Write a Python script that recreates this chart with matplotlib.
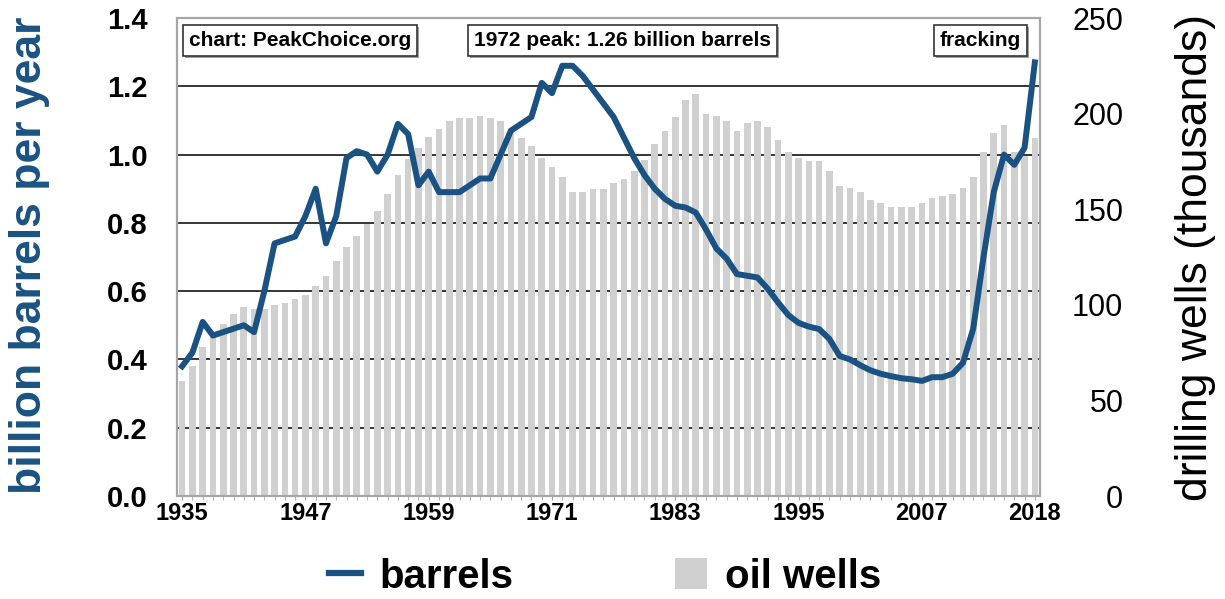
import matplotlib
matplotlib.use("Agg")
import matplotlib.pyplot as plt
import matplotlib.patheffects as pe
from matplotlib.lines import Line2D
from matplotlib.patches import Patch

plt.rcParams['font.family'] = ['Liberation Sans', 'DejaVu Sans']

years = list(range(1935, 2019))

# billion barrels per year (left axis)
barrels = [0.38, 0.42, 0.51, 0.47, 0.48, 0.49, 0.50, 0.48, 0.60, 0.74,
           0.75, 0.76, 0.82, 0.90, 0.74, 0.82, 0.99, 1.01, 1.00, 0.95,
           1.00, 1.09, 1.06, 0.91, 0.95, 0.89, 0.89, 0.89, 0.91, 0.93,
           0.93, 1.00, 1.07, 1.09, 1.11, 1.21, 1.18, 1.26, 1.26, 1.23,
           1.19, 1.15, 1.11, 1.05, 0.99, 0.94, 0.90, 0.87, 0.85, 0.845,
           0.83, 0.78, 0.725, 0.695, 0.65, 0.645, 0.64, 0.607, 0.567, 0.53,
           0.507, 0.496, 0.489, 0.46, 0.41, 0.40, 0.383, 0.368, 0.358, 0.351,
           0.345, 0.342, 0.337, 0.348, 0.348, 0.358, 0.39, 0.49, 0.70, 0.89,
           1.00, 0.97, 1.02, 1.27]

# oil wells, thousands (right axis)
wells = [60, 68, 78, 83, 90, 95, 99, 98, 98, 100,
         101, 103, 105, 110, 115, 123, 130, 136, 142, 149,
         158, 168, 176, 182, 188, 192, 196, 197.5, 197.5, 199,
         197.5, 196, 192, 187.5, 183, 176.7, 172, 166.7, 159, 159,
         160.7, 160.7, 163.7, 166, 170, 175.5, 184, 191, 198, 207,
         210, 200, 199, 196, 191, 195, 196, 193, 186, 180,
         177, 175.3, 175.3, 170, 162, 161, 159, 155, 153, 151,
         151, 151, 153, 156, 157, 158, 161, 167, 180, 190,
         194, 180, 178, 187]

label_years = [1935, 1947, 1959, 1971, 1983, 1995, 2007, 2018]
left_ticks = [0.0, 0.2, 0.4, 0.6, 0.8, 1.0, 1.2, 1.4]
right_ticks = [0, 50, 100, 150, 200, 250]

blue = '#1a5283'
gray_bar = '#d0d0d0'
spine_gray = '#a6a6a6'

fig = plt.figure(figsize=(12.25, 5.99), dpi=100)
ax = fig.add_axes([177 / 1225, 1 - 496 / 599, 863 / 1225, 478 / 599])
ax2 = ax.twinx()

# bars on the right-hand scale
ax.set_ylim(0, 250)
ax.set_xlim(1934.5, 2018.5)
for v in left_ticks[1:-1]:
    ax.axhline(v * 250 / 1.4, color='black', lw=1.1, zorder=0)
ax.bar(years, wells, width=0.65, color=gray_bar, zorder=2)

# barrels line on the left-hand scale
ax2.set_ylim(0, 1.4)
ax2.plot(years, barrels, color=blue, lw=4.3, solid_joinstyle='round', zorder=3)

ax.yaxis.tick_right()
ax2.yaxis.tick_left()
ax.set_yticks(right_ticks)
ax.set_yticklabels([str(t) for t in right_ticks])
ax.tick_params(axis='y', length=0, pad=60, labelsize=22)
for lbl in ax.get_yticklabels():
    lbl.set_ha('right')
ax2.set_yticks(left_ticks)
ax2.set_yticklabels([f'{t:.1f}' for t in left_ticks], fontweight='bold')
ax2.tick_params(axis='y', length=0, pad=21, labelsize=21)

ax.set_xticks(label_years)
ax.set_xticklabels([str(y) for y in label_years], fontweight='bold')
ax.set_xticks(years, minor=True)
ax.tick_params(axis='x', which='both', length=3, color=spine_gray, pad=1, labelsize=17)

for a in (ax, ax2):
    for s in a.spines.values():
        s.set_color(spine_gray)
        s.set_linewidth(1.5)

fig.text(30 / 1225, 1 - 255 / 599, 'billion barrels per year', rotation=90,
         ha='center', va='center', fontsize=32, fontweight='bold', color=blue)
fig.text(1195 / 1225, 1 - 257 / 599, 'drilling wells (thousands)', rotation=90,
         ha='center', va='center', fontsize=32, color='black')

box = dict(boxstyle='square,pad=0.3', fc='white', ec='#333333', lw=1.2)
for xf, s in [(0.1425, 'chart: PeakChoice.org'),
              (0.516, '1972 peak: 1.26 billion barrels'),
              (0.931, 'fracking')]:
    t = ax2.text(xf, 0.953, s, transform=ax2.transAxes, ha='center', va='center',
                 fontsize=15, fontweight='bold', bbox=box, zorder=5)
    t.get_bbox_patch().set_path_effects(
        [pe.SimplePatchShadow(offset=(1.5, -1.5), shadow_rgbFace='#888888', alpha=0.8),
         pe.Normal()])

handles = [Line2D([], [], color=blue, lw=4.5), Patch(facecolor=gray_bar)]
fig.legend(handles, ['barrels', 'oil wells'], loc='center',
           bbox_to_anchor=(0.494, 0.037), ncol=2, frameon=False,
           prop={'weight': 'bold', 'size': 29}, handlelength=0.8,
           handleheight=0.8, handletextpad=0.45, columnspacing=4.0)

fig.savefig('out.png', dpi=100)
